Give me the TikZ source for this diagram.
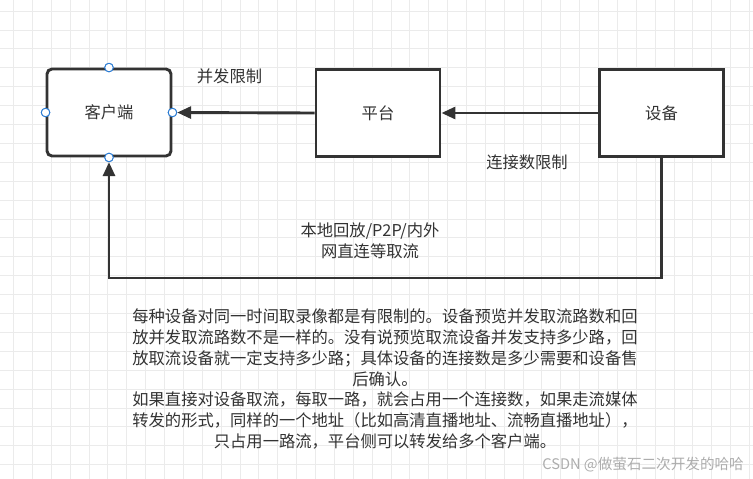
\documentclass[tikz,border=0pt]{standalone}
\usepackage{fontspec}
\setmainfont{Noto Sans CJK SC}
\usetikzlibrary{arrows.meta}
\definecolor{ink}{HTML}{333333}
\definecolor{gridc}{HTML}{EBEBEB}
\definecolor{portc}{HTML}{2B7CD3}
\definecolor{wmark}{HTML}{ADADAD}
\tikzset{
  box/.style={draw=ink, line width=2.9pt, fill=white, minimum width=124pt, minimum height=87pt, inner sep=0pt, text=ink, font=\fontsize{16.3}{20}\selectfont},
  port/.style={circle, draw=portc, fill=white, line width=0.9pt, minimum size=8.5pt, inner sep=0pt},
  conn/.style={draw=ink, line width=2.9pt, -{Triangle[length=14pt,width=12pt]}},
  lbl/.style={text=ink, font=\fontsize{16.3}{20.7}\selectfont, align=center, inner sep=0pt},
}
\begin{document}
\begin{tikzpicture}[x=1pt,y=-1pt]
\useasboundingbox (0,0) rectangle (753,479);
\fill[white] (0,0) rectangle (753,479);
% grid
\foreach \i in {0,...,39} {\draw[gridc, line width=0.8pt] ({13.5+18.87*\i},0) -- ({13.5+18.87*\i},479);}
\foreach \j in {0,...,25} {\draw[gridc, line width=0.8pt] (0,{11+18.9*\j}) -- (753,{11+18.9*\j});}
% boxes
\node[box, rounded corners=5pt] (client) at (109,112.5) {客户端};
\node[box] (plat) at (378,113) {平台};
\node[box] (dev) at (661.5,113) {设备};
% ports on client
\coordinate (ct) at (client.north);
\coordinate (cl) at (client.west);
\coordinate (cr) at (client.east);
\coordinate (cb) at (client.south);
\node[port] (pt) at (ct) {};
\node[port] (pl) at (cl) {};
\node[port] (pr) at (cr) {};
\node[port] (pb) at (cb) {};
% connectors
\coordinate (loop) at (109,278);
\draw[conn] (plat.west) -- (pr);
\draw[conn] (dev.west) -- (plat.east);
\draw[conn] (dev.south) |- (loop) -- (pb);
% redraw ports on top
\node[port] at (ct) {};
\node[port] at (cl) {};
\node[port] at (cr) {};
\node[port] at (cb) {};
% labels
\node[lbl] (l1) at (229.5,76) {并发限制};
\node[lbl] (l2) at (527,162) {连接数限制};
\node[lbl] (l3) at (370,241) {本地回放/P2P/内外\\网直连等取流};
\node[lbl] (note) at (385,379) {每种设备对同一时间取录像都是有限制的。设备预览并发取流路数和回\\放并发取流路数不是一样的。没有说预览取流设备并发支持多少路，回\\放取流设备就一定支持多少路；具体设备的连接数是多少需要和设备售\\后确认。\\如果直接对设备取流，每取一路，就会占用一个连接数，如果走流媒体\\转发的形式，同样的一个地址（比如高清直播地址、流畅直播地址），\\只占用一路流，平台侧可以转发给多个客户端。};
\node[text=wmark, font=\fontsize{14.6}{16}\selectfont, anchor=east, inner sep=0pt] (wm) at (744,465) {CSDN @做萤石二次开发的哈哈};
\end{tikzpicture}
\end{document}
